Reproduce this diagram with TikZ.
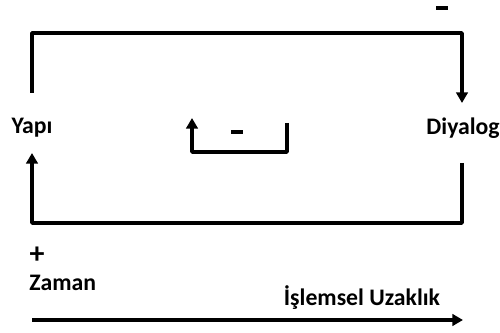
\documentclass[tikz,border=0pt]{standalone}
\usepackage{fontspec}
\setmainfont{Carlito}
\usepackage{tikz}
\usetikzlibrary{arrows.meta, positioning}

\tikzset{
  lbl/.style={font=\fontsize{13.5}{15}\selectfont\bfseries, inner sep=0pt},
  sign/.style={fill=black, inner sep=0pt, minimum width=0.23cm, minimum height=0.075cm},
  loop/.style={line width=2pt, line join=round},
  feed/.style={loop, -{Triangle[length=6pt,width=6.5pt]}}
}

\begin{document}
\begin{tikzpicture}[x=0.02cm, y=-0.02cm]
\useasboundingbox (0,0) rectangle (500,333);
% the two variables
\node[lbl] (yapi) at (32,128) {Yapı};
\node[lbl, anchor=east] (diyalog) at (500,128) {Diyalog};
% signs
\node[sign] (topsign) at (442,8) {};
\node[sign] (innersign) at (237,132) {};
\node[lbl, font=\fontsize{17}{18}\selectfont\bfseries] (plus) at (37,255) {+};
% axis labels
\node[lbl, anchor=west] (zaman) at (29,283) {Zaman};
\node[lbl] (uzaklik) at (362,298) {İşlemsel Uzaklık};
% loop ends
\coordinate (yapitop) at (32,93);
\coordinate (yapibot) at (32,153);
\coordinate (diatop) at (462,103);
\coordinate (diabot) at (462,163);
\coordinate (innerstart) at (287,123);
\coordinate (innerend) at (192,118);
\coordinate (axisstart) at (32,320);
\coordinate (axisend) at (463,320);
% Yapi -> Diyalog
\draw[feed] (yapitop) |- (462,33) -- (diatop);
% Diyalog -> Yapi
\draw[feed] (diabot) |- (32,223) -- (yapibot);
% small inner loop
\draw[feed] (innerstart) |- (192,152) -- (innerend);
% time axis
\draw[feed] (axisstart) -- (axisend);
\end{tikzpicture}
\end{document}
